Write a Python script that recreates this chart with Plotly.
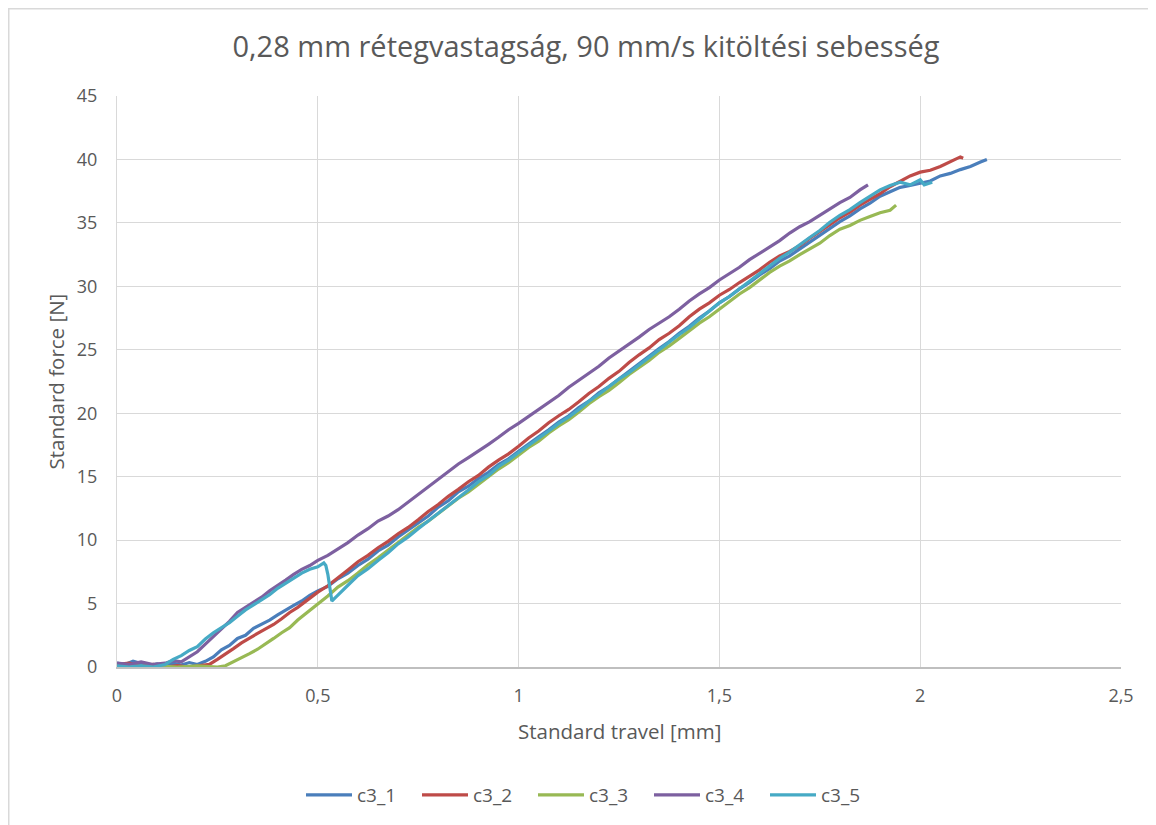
import plotly.graph_objects as go

title_text = "0,28 mm rétegvastagság, 90 mm/s kitöltési sebesség"
x_title = "Standard travel [mm]"
y_title = "Standard force [N]"
series_names = ["c3_1", "c3_2", "c3_3", "c3_4", "c3_5"]
series_colors = ["#4a7ebb", "#be4b48", "#98b954", "#7d60a0", "#46aac5"]

c3_1 = [(0, 0.3), (0.02, 0.2), (0.04, 0.45), (0.06, 0.3), (0.08, 0.1), (0.10, 0.25), (0.12, 0.05),
        (0.14, 0.3), (0.16, 0.15), (0.18, 0.35), (0.20, 0.2), (0.22, 0.45), (0.24, 0.8), (0.26, 1.35),
        (0.28, 1.7), (0.30, 2.25), (0.32, 2.5), (0.34, 3.05), (0.36, 3.35), (0.38, 3.7), (0.40, 4.1),
        (0.42, 4.5), (0.44, 4.85), (0.46, 5.2), (0.48, 5.65), (0.50, 6.0), (0.525, 6.35), (0.55, 6.95),
        (0.575, 7.4), (0.60, 8.0), (0.625, 8.5), (0.65, 9.15), (0.675, 9.6), (0.70, 10.25), (0.725, 10.8),
        (0.75, 11.35), (0.775, 11.9), (0.80, 12.6), (0.825, 13.1), (0.85, 13.8), (0.875, 14.25),
        (0.90, 14.85), (0.925, 15.35), (0.95, 15.95), (0.975, 16.4), (1.00, 17.0), (1.025, 17.6),
        (1.05, 18.15), (1.075, 18.7), (1.10, 19.3), (1.125, 19.8), (1.15, 20.45), (1.175, 20.95),
        (1.20, 21.6), (1.225, 22.1), (1.25, 22.7), (1.275, 23.35), (1.30, 23.9), (1.325, 24.5),
        (1.35, 25.1), (1.375, 25.65), (1.40, 26.3), (1.425, 26.85), (1.45, 27.5), (1.475, 28.05),
        (1.50, 28.7), (1.525, 29.2), (1.55, 29.8), (1.575, 30.3), (1.60, 30.9), (1.625, 31.4),
        (1.65, 32.0), (1.675, 32.4), (1.70, 32.95), (1.725, 33.45), (1.75, 34.0), (1.775, 34.6),
        (1.80, 35.1), (1.825, 35.55), (1.85, 36.1), (1.875, 36.55), (1.90, 37.1), (1.925, 37.45),
        (1.95, 37.8), (1.975, 37.95), (2.00, 38.1), (2.025, 38.3), (2.05, 38.7), (2.075, 38.9),
        (2.10, 39.2), (2.125, 39.45), (2.15, 39.8), (2.166, 40.0)]

c3_2 = [(0, 0.2), (0.03, 0.3), (0.06, 0.1), (0.09, 0.2), (0.12, 0.0), (0.15, 0.1), (0.18, 0.0),
        (0.21, 0.1), (0.23, 0.2), (0.25, 0.6), (0.27, 1.0), (0.29, 1.45), (0.31, 1.9), (0.33, 2.3),
        (0.35, 2.65), (0.37, 3.0), (0.39, 3.35), (0.41, 3.8), (0.43, 4.3), (0.45, 4.7), (0.47, 5.2),
        (0.50, 5.9), (0.525, 6.4), (0.55, 7.0), (0.575, 7.65), (0.60, 8.3), (0.625, 8.8), (0.65, 9.4),
        (0.675, 9.9), (0.70, 10.5), (0.725, 11.0), (0.75, 11.6), (0.775, 12.25), (0.80, 12.8),
        (0.825, 13.45), (0.85, 14.0), (0.875, 14.6), (0.90, 15.1), (0.925, 15.75), (0.95, 16.3),
        (0.975, 16.8), (1.00, 17.4), (1.025, 18.05), (1.05, 18.6), (1.075, 19.25), (1.10, 19.8),
        (1.125, 20.3), (1.15, 20.9), (1.175, 21.55), (1.20, 22.1), (1.225, 22.75), (1.25, 23.3),
        (1.275, 24.0), (1.30, 24.6), (1.325, 25.15), (1.35, 25.8), (1.375, 26.3), (1.40, 26.9),
        (1.425, 27.6), (1.45, 28.2), (1.475, 28.7), (1.50, 29.3), (1.525, 29.75), (1.55, 30.3),
        (1.575, 30.8), (1.60, 31.3), (1.625, 31.9), (1.65, 32.4), (1.675, 32.75), (1.70, 33.2),
        (1.725, 33.8), (1.75, 34.3), (1.775, 34.85), (1.80, 35.4), (1.825, 35.85), (1.85, 36.4),
        (1.875, 36.85), (1.90, 37.3), (1.925, 37.85), (1.95, 38.3), (1.975, 38.7), (2.00, 39.0),
        (2.025, 39.15), (2.05, 39.45), (2.075, 39.85), (2.10, 40.2), (2.107, 40.1)]

c3_3 = [(0, 0.1), (0.05, 0.0), (0.10, 0.1), (0.15, 0.0), (0.20, 0.1), (0.25, 0.0), (0.27, 0.1),
        (0.29, 0.4), (0.31, 0.7), (0.33, 1.05), (0.35, 1.4), (0.37, 1.8), (0.39, 2.25), (0.41, 2.7),
        (0.43, 3.1), (0.45, 3.7), (0.47, 4.2), (0.50, 5.0), (0.525, 5.6), (0.55, 6.3), (0.575, 6.8),
        (0.60, 7.4), (0.625, 8.05), (0.65, 8.6), (0.675, 9.2), (0.70, 9.8), (0.725, 10.35), (0.75, 11.0),
        (0.775, 11.5), (0.80, 12.1), (0.825, 12.75), (0.85, 13.3), (0.875, 13.8), (0.90, 14.4),
        (0.925, 15.05), (0.95, 15.6), (0.975, 16.1), (1.00, 16.7), (1.025, 17.3), (1.05, 17.8),
        (1.075, 18.45), (1.10, 19.0), (1.125, 19.5), (1.15, 20.1), (1.175, 20.75), (1.20, 21.3),
        (1.225, 21.8), (1.25, 22.4), (1.275, 23.05), (1.30, 23.6), (1.325, 24.15), (1.35, 24.8),
        (1.375, 25.3), (1.40, 25.9), (1.425, 26.5), (1.45, 27.1), (1.475, 27.6), (1.50, 28.2),
        (1.525, 28.85), (1.55, 29.4), (1.575, 29.9), (1.60, 30.5), (1.625, 31.1), (1.65, 31.6),
        (1.675, 32.0), (1.70, 32.5), (1.725, 32.95), (1.75, 33.4), (1.775, 34.0), (1.80, 34.5),
        (1.825, 34.8), (1.85, 35.2), (1.875, 35.5), (1.90, 35.8), (1.925, 36.0), (1.94, 36.4)]

c3_4 = [(0, 0.3), (0.03, 0.2), (0.06, 0.4), (0.09, 0.2), (0.12, 0.3), (0.14, 0.5), (0.16, 0.4),
        (0.18, 0.8), (0.20, 1.2), (0.22, 1.8), (0.24, 2.4), (0.26, 3.0), (0.28, 3.6), (0.30, 4.3),
        (0.32, 4.7), (0.34, 5.1), (0.36, 5.5), (0.38, 6.0), (0.40, 6.4), (0.42, 6.85), (0.44, 7.3),
        (0.46, 7.7), (0.48, 8.0), (0.50, 8.4), (0.525, 8.8), (0.55, 9.3), (0.575, 9.8), (0.60, 10.4),
        (0.625, 10.9), (0.65, 11.5), (0.675, 11.9), (0.70, 12.4), (0.725, 13.0), (0.75, 13.65),
        (0.775, 14.2), (0.80, 14.8), (0.825, 15.45), (0.85, 16.0), (0.875, 16.5), (0.90, 17.0),
        (0.925, 17.55), (0.95, 18.1), (0.975, 18.7), (1.00, 19.2), (1.025, 19.75), (1.05, 20.3),
        (1.075, 20.8), (1.10, 21.4), (1.125, 22.05), (1.15, 22.6), (1.175, 23.1), (1.20, 23.7),
        (1.225, 24.35), (1.25, 24.9), (1.275, 25.4), (1.30, 26.0), (1.325, 26.6), (1.35, 27.1),
        (1.375, 27.6), (1.40, 28.2), (1.425, 28.85), (1.45, 29.4), (1.475, 29.9), (1.50, 30.5),
        (1.525, 31.0), (1.55, 31.5), (1.575, 32.1), (1.60, 32.6), (1.625, 33.05), (1.65, 33.6),
        (1.675, 34.2), (1.70, 34.7), (1.725, 35.1), (1.75, 35.6), (1.775, 36.1), (1.80, 36.6),
        (1.825, 37.0), (1.85, 37.6), (1.87, 38.0)]

c3_5 = [(0, 0.1), (0.03, 0.0), (0.06, 0.1), (0.09, 0.0), (0.12, 0.2), (0.14, 0.6), (0.16, 0.9),
        (0.18, 1.3), (0.20, 1.6), (0.22, 2.2), (0.24, 2.7), (0.26, 3.1), (0.28, 3.5), (0.30, 4.0),
        (0.32, 4.5), (0.34, 4.9), (0.36, 5.3), (0.38, 5.7), (0.40, 6.2), (0.42, 6.6), (0.44, 7.0),
        (0.46, 7.4), (0.48, 7.7), (0.50, 7.9), (0.515, 8.2), (0.52, 8.0), (0.525, 7.3), (0.53, 6.3),
        (0.535, 5.2), (0.545, 5.5), (0.56, 6.0), (0.58, 6.6), (0.60, 7.2), (0.625, 7.75), (0.65, 8.4),
        (0.675, 9.0), (0.70, 9.7), (0.725, 10.25), (0.75, 10.9), (0.775, 11.5), (0.80, 12.1),
        (0.825, 12.7), (0.85, 13.3), (0.875, 13.95), (0.90, 14.6), (0.925, 15.1), (0.95, 15.8),
        (0.975, 16.3), (1.00, 16.9), (1.025, 17.45), (1.05, 18.0), (1.075, 18.6), (1.10, 19.2),
        (1.125, 19.7), (1.15, 20.3), (1.175, 20.95), (1.20, 21.5), (1.225, 22.1), (1.25, 22.7),
        (1.275, 23.2), (1.30, 23.8), (1.325, 24.45), (1.35, 25.0), (1.375, 25.6), (1.40, 26.2),
        (1.425, 26.75), (1.45, 27.4), (1.475, 28.1), (1.50, 28.7), (1.525, 29.2), (1.55, 29.8),
        (1.575, 30.45), (1.60, 31.0), (1.625, 31.6), (1.65, 32.2), (1.675, 32.7), (1.70, 33.3),
        (1.725, 33.85), (1.75, 34.4), (1.775, 35.05), (1.80, 35.6), (1.825, 36.05), (1.85, 36.6),
        (1.875, 37.1), (1.90, 37.6), (1.925, 37.95), (1.95, 38.2), (1.975, 38.0), (2.00, 38.4),
        (2.01, 38.0), (2.03, 38.2)]

x_ticks = [0, 0.5, 1, 1.5, 2, 2.5]
y_ticks = [0, 5, 10, 15, 20, 25, 30, 35, 40, 45]

FONT = "'Open Sans', Lato, sans-serif"
TEXT = "#595959"
GRID = "#d9d9d9"

# figure sits inside the page's 8px body margin
W, H = 1148, 817
ML, MR, MT, MB = 109, 35, 88, 158
PW, PH = W - ML - MR, H - MT - MB

fig = go.Figure()
for name, color, data in zip(series_names, series_colors, [c3_1, c3_2, c3_3, c3_4, c3_5]):
    xs = [p[0] for p in data]
    ys = [p[1] for p in data]
    fig.add_trace(go.Scatter(x=xs, y=ys, mode="lines", name=name,
                             line=dict(color=color, width=3.2)))

fig.update_layout(
    width=W, height=H,
    paper_bgcolor="white", plot_bgcolor="white",
    separators=", ",
    margin=dict(l=ML, r=MR, t=MT, b=MB, autoexpand=False),
    font=dict(family=FONT, color=TEXT, size=18),
    title=dict(text=title_text, x=578 / W, xref="container", xanchor="center",
               y=1 - 39 / H, yref="container", yanchor="middle",
               font=dict(family=FONT, size=29, color=TEXT)),
    showlegend=True,
    legend=dict(orientation="h", x=(583 - ML) / PW, xanchor="center",
                y=-(787 - (MT + PH)) / PH, yanchor="middle",
                itemwidth=46, entrywidth=55, entrywidthmode="pixels",
                font=dict(family=FONT, size=19, color=TEXT), bgcolor="rgba(0,0,0,0)"),
    xaxis=dict(range=[0, 2.5], tickvals=x_ticks, showgrid=True, gridcolor=GRID, gridwidth=1.3,
               zeroline=False, showline=True, linecolor="#bfbfbf", linewidth=1.5,
               ticks="", ticklabelstandoff=12, tickfont=dict(size=18, color=TEXT)),
    yaxis=dict(range=[0, 45], tickvals=y_ticks, showgrid=True, gridcolor=GRID, gridwidth=1.3,
               zeroline=False, showline=True, linecolor=GRID, linewidth=1.3,
               ticks="", ticklabelstandoff=15, tickfont=dict(size=18, color=TEXT)),
    annotations=[
        dict(text=x_title, xref="paper", yref="paper", x=0.5, y=-(723 - (MT + PH)) / PH,
             xanchor="center", yanchor="middle", showarrow=False,
             font=dict(family=FONT, size=20.5, color=TEXT)),
        dict(text=y_title, xref="paper", yref="paper", x=(47 - ML) / PW, y=0.5,
             xanchor="center", yanchor="middle", showarrow=False, textangle=-90,
             font=dict(family=FONT, size=20.5, color=TEXT)),
    ],
    shapes=[
        dict(type="rect", xref="paper", yref="paper",
             x0=(0.75 - ML) / PW, x1=1.3, y0=-0.6, y1=(MT + PH - 0.75) / PH,
             line=dict(color=GRID, width=1.5), fillcolor="rgba(0,0,0,0)", layer="below"),
    ],
)

fig.write_html("out.html")
